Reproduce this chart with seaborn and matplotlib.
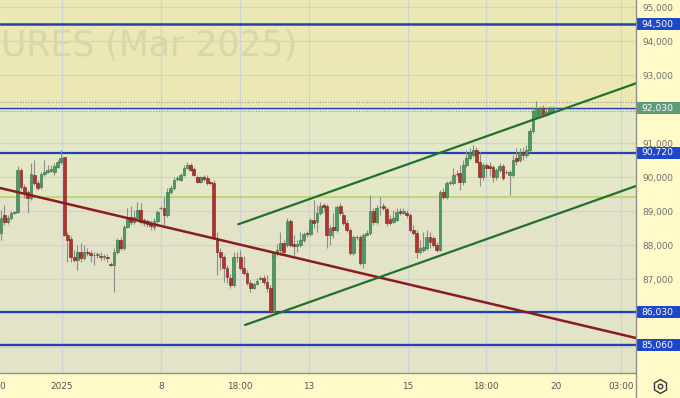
import matplotlib
matplotlib.use("Agg")
import matplotlib.pyplot as plt
import matplotlib.transforms as mtransforms
from matplotlib.patches import Rectangle
from matplotlib.lines import Line2D
import numpy as np
import pandas as pd
import seaborn as sns

# ---------------- data ----------------
opens = [88370, 88900, 88690, 88810, 88950, 88980, 90220, 89720, 89570, 89400,
         90070, 89840, 89720, 90100, 90160, 90190, 90160, 90310, 90450, 90600,
         88310, 88190, 87660, 87570, 87810, 87630, 87810, 87780, 87720, 87720,
         87690, 87660, 87660, 87450, 87430, 87810, 88160, 87930, 88540, 88840,
         88690, 88810, 89040, 88750, 88720, 88660, 88540, 88720, 89100, 89100,
         88900, 89570, 89690, 89950, 89920, 90070, 90280, 90370, 90250, 90010,
         89870, 90010, 89980, 89840, 89840, 88220, 87810, 87660, 87340, 87040,
         86840, 87660, 87660, 87340, 87190, 86900, 86750, 86870, 87010, 87040,
         86930, 86750, 86040, 87780, 87870, 88070, 88010, 88720, 88040, 87980,
         88010, 88160, 88340, 88340, 88750, 88690, 88950, 89190, 89160, 88310,
         88540, 88450, 89160, 88900, 88660, 88450, 87780, 88250, 88240, 87480,
         88310, 88370, 89010, 88690, 89130, 89160, 89070, 88780, 88690, 88750,
         89010, 88950, 88950, 88900, 88450, 88370, 87810, 87870, 87930, 88250,
         88220, 88010, 87870, 89570, 89420, 89840, 89840, 90100, 90130, 89870,
         90370, 90570, 90660, 90810, 90450, 90010, 90370, 90340, 90310, 90010,
         90220, 90340, 90160, 90070, 90070, 90570, 90510, 90750, 90660, 90810,
         91370, 91780, 91840, 92040, 91840, 91890, 91950]
highs = [89040, 89190, 88900, 89010, 89010, 90340, 90280, 89810, 89630, 90420,
         90510, 89920, 90160, 90510, 90370, 90370, 90420, 90510, 90810, 90600,
         88400, 88280, 87870, 88010, 88070, 88010, 87930, 87870, 87810, 87810,
         87810, 87750, 87750, 87510, 87930, 88220, 88250, 88600, 89100, 89160,
         89040, 89280, 89250, 88810, 88780, 88750, 88810, 89040, 89160, 89420,
         89690, 89780, 90010, 90040, 90130, 90370, 90450, 90420, 90310, 90070,
         90040, 90070, 90070, 89900, 89920, 88400, 87930, 87720, 87430, 87160,
         87810, 87810, 87870, 87680, 87280, 86980, 86930, 87040, 87100, 87130,
         87130, 86840, 87810, 88040, 88400, 88160, 88810, 88780, 88310, 88160,
         88400, 88400, 88430, 88810, 89340, 89190, 89280, 89250, 89220, 88600,
         88950, 89190, 89250, 88980, 88750, 88510, 88310, 88310, 88310, 88370,
         88450, 89480, 89100, 89190, 89420, 89250, 89130, 88900, 89040, 89100,
         89100, 89100, 89040, 88950, 88600, 88450, 88160, 88400, 88450, 88400,
         88280, 88100, 89630, 89690, 89900, 89920, 90280, 90220, 90370, 90510,
         90810, 90870, 90950, 90890, 90750, 90420, 90420, 90450, 90370, 90280,
         90420, 90390, 90220, 90220, 90660, 90870, 90870, 90890, 90950, 91450,
         92040, 92250, 92100, 92130, 92040, 92100, 92100]
lows = [88160, 88600, 88630, 88750, 88920, 88950, 89630, 89400, 88950, 89340,
        89780, 89630, 89660, 90040, 90130, 90160, 90070, 90280, 90390, 88280,
        87510, 87510, 87510, 87280, 87510, 87570, 87690, 87510, 87430, 87630,
        87570, 87570, 87510, 87400, 86630, 87750, 87870, 87870, 88510, 88600,
        88630, 88750, 88630, 88570, 88540, 88450, 88450, 88660, 89040, 88600,
        88840, 89510, 89630, 89900, 89900, 90040, 90250, 90190, 90040, 89840,
        89840, 89900, 89780, 89780, 88190, 87130, 87280, 86930, 86900, 86750,
        86780, 87510, 87280, 87130, 86840, 86630, 86720, 86840, 86980, 86840,
        86630, 86020, 86020, 87690, 87720, 87720, 87950, 87950, 87690, 87810,
        87950, 88100, 88250, 88280, 88510, 88400, 88900, 88980, 87930, 88010,
        88220, 88390, 88900, 88600, 88390, 87720, 87720, 88160, 87430, 87340,
        88280, 88310, 88600, 88630, 88900, 89040, 88570, 88600, 88660, 88720,
        88900, 88920, 88810, 88390, 88310, 87630, 87750, 87810, 87870, 87930,
        87950, 87810, 87840, 89370, 89370, 89780, 89780, 90040, 89630, 89780,
        90310, 90510, 90600, 90420, 89750, 89920, 90010, 90040, 89870, 89920,
        90160, 89920, 90100, 89480, 90010, 90370, 90450, 90510, 90570, 90750,
        91310, 91720, 91750, 91780, 91810, 91860, 91920]
closes = [88810, 88690, 88810, 88950, 88980, 90220, 89720, 89570, 89400, 90100,
          89840, 89690, 90100, 90160, 90220, 90250, 90340, 90450, 90570, 88310,
          88160, 87660, 87570, 87810, 87630, 87810, 87780, 87720, 87710, 87720,
          87660, 87660, 87630, 87430, 87810, 88160, 87930, 88540, 88840, 88690,
          88840, 89040, 88690, 88660, 88630, 88570, 88720, 88980, 89090, 88900,
          89570, 89690, 89920, 89980, 90070, 90280, 90370, 90220, 90070, 89870,
          90010, 89950, 89840, 89830, 88220, 87810, 87660, 87340, 87070, 86840,
          87660, 87650, 87340, 87190, 86900, 86750, 86870, 86960, 87040, 86930,
          86750, 86040, 87780, 87870, 88070, 87810, 88720, 88010, 87980, 88040,
          88160, 88340, 88330, 88750, 88660, 88950, 89160, 89130, 88310, 88510,
          88450, 89130, 88950, 88660, 88450, 87780, 88250, 88240, 87480, 88310,
          88370, 89010, 88690, 89100, 89120, 89100, 88660, 88660, 88810, 88980,
          88950, 89010, 88900, 88450, 88370, 87810, 87930, 87950, 88250, 88100,
          88010, 87870, 89570, 89420, 89840, 89870, 90070, 90090, 89870, 90370,
          90570, 90720, 90810, 90450, 90010, 90370, 90280, 90280, 90010, 90220,
          90340, 89980, 90150, 90160, 90510, 90480, 90750, 90660, 90810, 91370,
          91950, 92040, 92040, 91840, 91920, 92010, 92030]

levels = [94500, 92030, 90720, 86030, 85060]
level_labels = ["94,500", "92,030", "90,720", "86,030", "85,060"]
y_ticks = [87000, 88000, 89000, 90000, 91000, 93000, 94000, 95000]
grid_levels = [85000, 86000, 87000, 88000, 89000, 90000, 91000, 92000, 93000, 94000, 95000]
x_tick_pos = [0.45, 18.35, 48.12, 71.88, 92.63, 122.41, 145.87, 166.92, 186.47]
x_tick_labels = ["0", "2025", "8", "18:00", "13", "15", "18:00", "20", "03:00"]
watermark = "URES (Mar 2025)"

red_x = [-0.3, 190.98]
red_y = [89689, 85279]
chan_up_x = [71.37, 190.98]
chan_up_y = [88622, 92767]
chan_lo_x = [73.38, 190.98]
chan_lo_y = [85661, 89748]

zone_split = 89420
dotted_levels = [92230, 91960]
gray_level = 85110

# ---------------- figure ----------------
sns.set_style("white")
plt.rcParams["font.family"] = ["DejaVu Sans"]

W, H = 680, 398
fig = plt.figure(figsize=(W / 100, H / 100), dpi=100, facecolor="#fffac8")
ax = fig.add_axes([0, 1 - 373 / H, 636 / W, 373 / H])
YMIN, YMAX = 84250, 95216
ax.set_xlim(-0.3, 190.98)
ax.set_ylim(YMIN, YMAX)
ax.set_facecolor("#e3e3c8")

ax.axhspan(levels[1], YMAX, color="#ebe8b3", zorder=0, lw=0)
ax.axhspan(zone_split, levels[1], color="#e5e8c6", zorder=0, lw=0)
ax.axhspan(YMIN, zone_split, color="#e3e3c8", zorder=0, lw=0)

for g in grid_levels:
    ax.axhline(g, color="#cdd3d8", lw=0.9, zorder=1)
for xp in x_tick_pos[1:]:
    ax.axvline(xp, color="#cdd3d8", lw=0.9, zorder=1)

# watermark
ax.text(1 / 636, 1 - 46 / 373, watermark, transform=ax.transAxes,
        ha="left", va="center", fontsize=25, color="#d8d6ad", zorder=1.5)

ax.axhline(zone_split, color="#b6d46c", lw=1.2, zorder=2)
for dl in dotted_levels:
    ax.axhline(dl, color="#9a9a9a", lw=0.8, ls=(0, (1, 1.5)), zorder=2)
ax.axhline(gray_level, color="#9c9c9c", lw=1.0, zorder=2)

level_lw = [1.8, 1.0, 1.6, 1.6, 1.6]
for lv, lw in zip(levels, level_lw):
    ax.axhline(lv, color="#2142b4", lw=lw, zorder=2.5)

# candles
df = pd.DataFrame({"i": np.arange(len(opens)), "o": opens, "h": highs,
                   "l": lows, "c": closes})
up = df["c"] >= df["o"]
ax.vlines(df["i"], df["l"], df["h"], color="#8c8c8c", lw=0.8, zorder=3)
body_lo = np.minimum(df["o"], df["c"])
body_h = np.maximum(np.abs(df["c"] - df["o"]), 22)
ax.bar(df["i"][up], body_h[up], bottom=body_lo[up], width=0.82,
       color="#4c9a63", edgecolor="#2e6c41", lw=0.4, zorder=4)
ax.bar(df["i"][~up], body_h[~up], bottom=body_lo[~up], width=0.82,
       color="#b2322d", edgecolor="#7a1d19", lw=0.4, zorder=4)

# trend lines
sns.lineplot(x=red_x, y=red_y, ax=ax, color="#8b1c1c", lw=1.8, zorder=5)
sns.lineplot(x=chan_up_x, y=chan_up_y, ax=ax, color="#22702a", lw=1.6, zorder=5)
sns.lineplot(x=chan_lo_x, y=chan_lo_y, ax=ax, color="#22702a", lw=1.6, zorder=5)
ax.set_xlim(-0.3, 190.98)
ax.set_ylim(YMIN, YMAX)

# axes styling
for s in ax.spines.values():
    s.set_visible(False)
ax.yaxis.tick_right()
ax.set_yticks(y_ticks)
ax.set_yticklabels([f"{v:,}" for v in y_ticks])
ax.tick_params(axis="y", length=0, pad=4.5, labelsize=6.4, labelcolor="#6f6f6f")
ax.set_xticks(x_tick_pos)
ax.set_xticklabels(x_tick_labels)
ax.tick_params(axis="x", length=0, pad=6.8, labelsize=6.4, labelcolor="#555555")
ax.set_xlabel("")
ax.set_ylabel("")

# frame lines of the price panel
fig.add_artist(Line2D([636 / W, 636 / W], [0, 1], transform=fig.transFigure,
                      color="#8f8f8f", lw=1.0))
fig.add_artist(Line2D([0, 636 / W], [1 - 373 / H, 1 - 373 / H], transform=fig.transFigure,
                      color="#8f8f8f", lw=1.0))

# level label boxes
trans = mtransforms.blended_transform_factory(ax.transAxes, ax.transData)
box_h = 12 * (YMAX - YMIN) / 373
box_x0 = 637 / 636
box_w = 44 / 636
box_colors = ["#1f48c9", "#5e9c7a", "#1f48c9", "#1f48c9", "#1f48c9"]
for lv, lab, bc in zip(levels, level_labels, box_colors):
    ax.add_patch(Rectangle((box_x0, lv - box_h / 2), box_w, box_h, transform=trans,
                           facecolor=bc, edgecolor="none", clip_on=False, zorder=10))
    ax.text(box_x0 + box_w / 2 - 0.002, lv, lab, transform=trans, ha="center",
            va="center", fontsize=6.6, color="white", clip_on=False, zorder=11)

# settings icon
fig.add_artist(Line2D([660 / W], [1 - 386 / H], marker="h", markersize=10,
                      mfc="none", mec="#3a3a3a", mew=1.0, transform=fig.transFigure))
fig.add_artist(Line2D([660 / W], [1 - 386 / H], marker="o", markersize=3.2,
                      mfc="none", mec="#3a3a3a", mew=1.0, transform=fig.transFigure))

fig.savefig("out.png", dpi=100, facecolor=fig.get_facecolor())
